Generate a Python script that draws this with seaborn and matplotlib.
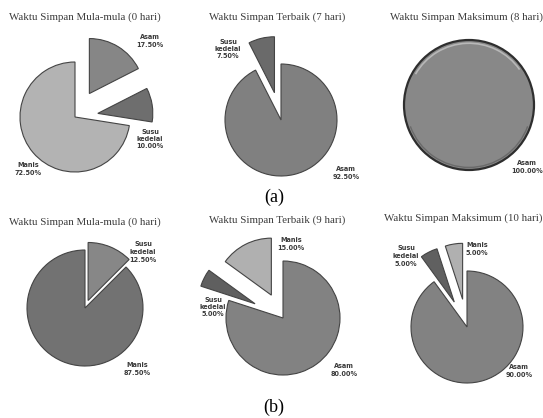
import matplotlib
matplotlib.use('Agg')
import matplotlib.pyplot as plt
from matplotlib.patches import Arc
import seaborn as sns

sns.set_theme(style='white')
plt.rcParams['font.family'] = ['Liberation Serif', 'DejaVu Serif']

# Data: percentage of each taste category per storage time
categories = ['Asam', 'Susu kedelai', 'Manis']
titles_a = ['Waktu Simpan Mula-mula (0 hari)', 'Waktu Simpan Terbaik (7 hari)',
            'Waktu Simpan Maksimum (8 hari)']
titles_b = ['Waktu Simpan Mula-mula (0 hari)', 'Waktu Simpan Terbaik (9 hari)',
            'Waktu Simpan Maksimum (10 hari)']
awal_a = [17.5, 10.0, 72.5]
terbaik_a = [92.5, 7.5, 0.0]
maks_a = [100.0, 0.0, 0.0]
awal_b = [0.0, 12.5, 87.5]
terbaik_b = [80.0, 5.0, 15.0]
maks_b = [90.0, 5.0, 5.0]

panel_titles = titles_a + titles_b
panel_values = [awal_a, terbaik_a, maks_a, awal_b, terbaik_b, maks_b]

# Styling / layout per panel (pixels in a 543x418 figure)
W, H = 543, 418
centers = [(75, 117, 55), (281, 120, 56), (469, 105, 65),
           (85, 308, 58), (283, 318, 57), (467, 327, 56)]
explodes = [[0.5, 0.42, 0], [0, 0.5, 0], [0, 0, 0],
            [0, 0.14, 0], [0, 0.55, 0.45], [0, 0.5, 0.5]]
colors = [['#868686', '#6e6e6e', '#b3b3b3'],
          ['#808080', '#6a6a6a', '#b3b3b3'],
          ['#888888', '#6a6a6a', '#b3b3b3'],
          ['#808080', '#878787', '#727272'],
          ['#828282', '#5f5f5f', '#b0b0b0'],
          ['#828282', '#606060', '#b0b0b0']]
label_pos = [[(150, 41), (150, 139), (28, 169)],
             [(346, 173), (228, 49), None],
             [(527, 167), None, None],
             [None, (143, 252), (137, 369)],
             [(344, 370), (213, 307), (291, 244)],
             [(519, 371), (406, 256), (477, 249)]]
title_pos = [(85, 17), (277, 17), (466, 17), (85, 222), (277, 220), (463, 218)]

fig = plt.figure(figsize=(W / 100, H / 100), dpi=100)
fig.patch.set_facecolor('white')

for i, vals in enumerate(panel_values):
    cx, cy, r = centers[i]
    k = 1.6
    ax = fig.add_axes([(cx - k * r) / W, (H - cy - k * r) / H, 2 * k * r / W, 2 * k * r / H])
    keep = [j for j, v in enumerate(vals) if v > 0]
    wedges, _ = ax.pie([vals[j] for j in keep],
                       colors=[colors[i][j] for j in keep],
                       explode=[explodes[i][j] for j in keep],
                       startangle=90, counterclock=False,
                       wedgeprops=dict(edgecolor='#444444', linewidth=0.8))
    ax.set_xlim(-k, k)
    ax.set_ylim(-k, k)
    ax.set_aspect('equal')
    ax.axis('off')

    if len(keep) == 1:
        # bevel look for the full circle
        wedges[0].set_linewidth(1.6)
        wedges[0].set_edgecolor('#2e2e2e')
        ax.add_patch(Arc((0, 0), 1.9, 1.9, theta1=35, theta2=150,
                         color='#b8b8b8', lw=1.2))
        ax.add_patch(Arc((0, 0), 1.92, 1.92, theta1=200, theta2=340,
                         color='#6a6a6a', lw=1.0))

    for j in keep:
        pos = label_pos[i][j]
        if pos is None:
            continue
        name = categories[j].replace(' ', '\n')
        ax.text((pos[0] - cx) / r, (cy - pos[1]) / r, f'{name}\n{vals[j]:.2f}%',
                ha='center', va='center', fontsize=4.7, fontweight='bold',
                family=['DejaVu Sans'], color='#3a3a3a',
                linespacing=1.3)

    tx, ty = title_pos[i]
    fig.text(tx / W, 1 - ty / H, panel_titles[i], ha='center', va='center',
             fontsize=7.8, color='#3a3a3a')

fig.text(274 / W, 1 - 197 / H, '(a)', ha='center', va='center', fontsize=13, color='black')
fig.text(274 / W, 1 - 407 / H, '(b)', ha='center', va='center', fontsize=13, color='black')

fig.savefig('out.png', dpi=100)
